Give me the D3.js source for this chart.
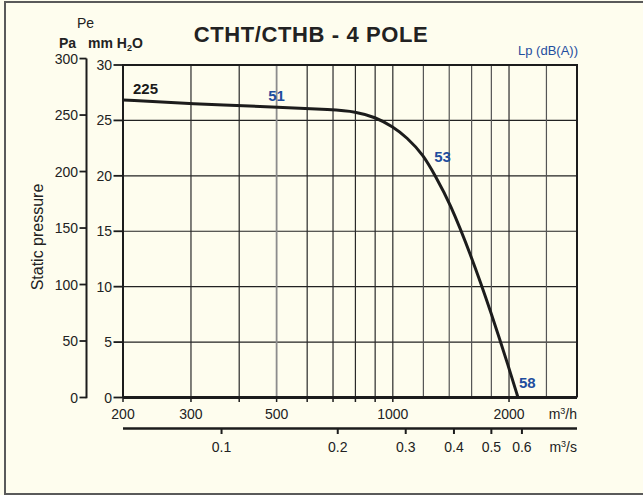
<!DOCTYPE html>
<html><head><meta charset="utf-8">
<script src="https://cdn.jsdelivr.net/npm/d3@7"></script>
<style>
html,body{margin:0;padding:0;background:#fefdee;}
svg text{font-family:"Liberation Sans",Arial,sans-serif;}
</style></head>
<body>
<svg id="c" width="643" height="495"></svg>
<script>
// ---- data ----
const flowH = [200, 300, 500, 700, 800, 900, 1000, 1085, 1200, 1290, 1400, 1600, 1800, 2000, 2110]; // m3/h
const pressMM = [26.85, 26.5, 26.2, 25.97, 25.8, 25.3, 24.45, 23.5, 21.9, 19.95, 17.7, 12.7, 7.6, 2.65, 0]; // mm H2O
const gridFlow = [300, 400, 500, 600, 700, 800, 900, 1000, 1200, 1400, 1600, 1800, 2000, 2500];
const labelFlowH = [200, 300, 500, 1000, 2000];
const tickFlowH = [200, 300, 400, 500, 600, 700, 800, 900, 1000, 2000];
const ticksM3s = [0.1, 0.2, 0.3, 0.4, 0.5, 0.6];
const ticksMM = [0, 5, 10, 15, 20, 25, 30];
const ticksPa = [0, 50, 100, 150, 200, 250, 300];
const noiseLabels = [{t: "51", f: 500, p: 26.2}, {t: "53", f: 1345, p: 20.7}, {t: "58", f: 2230, p: 0.35}];

const svg = d3.select("#c");
const x = d3.scaleLog().domain([200, 3000]).range([123, 577]);
const y = d3.scaleLinear().domain([0, 30]).range([397.5, 65]);
const ink = "#1c1c1c", blue = "#1f4e9e";

// outer frame
svg.append("rect").attr("x", 5).attr("y", 2).attr("width", 660).attr("height", 492)
  .attr("fill", "#fefdee").attr("stroke", "#5a5a5a").attr("stroke-width", 2);

// grid
const g = svg.append("g");
g.selectAll(".hg").data(ticksMM.filter(d => d > 0 && d < 30)).join("line")
  .attr("x1", 123).attr("x2", 577).attr("y1", d => y(d)).attr("y2", d => y(d))
  .attr("stroke", "#222").attr("stroke-width", 1.2);
g.selectAll(".vg").data(gridFlow).join("line")
  .attr("x1", d => x(d)).attr("x2", d => x(d)).attr("y1", 65).attr("y2", 397.5)
  .attr("stroke", d => d === 500 ? "#8c8c8c" : (d > 1000 && d !== 2000 ? "#555" : "#2a2a2a"))
  .attr("stroke-width", d => d === 500 ? 1.8 : 1.2);

// plot border
svg.append("path").attr("d", `M123,397.5V65H577V397.5`).attr("fill", "none")
  .attr("stroke", ink).attr("stroke-width", 2);
svg.append("line").attr("x1", 123).attr("x2", 577).attr("y1", 397.5).attr("y2", 397.5)
  .attr("stroke", ink).attr("stroke-width", 3);

// bottom m3/h ticks and labels
svg.selectAll(".bt").data(tickFlowH).join("line")
  .attr("x1", d => x(d)).attr("x2", d => x(d)).attr("y1", 397.5).attr("y2", 402)
  .attr("stroke", ink).attr("stroke-width", 1.5);
svg.selectAll(".bl").data(labelFlowH).join("text")
  .attr("x", d => x(d)).attr("y", 418.5).attr("text-anchor", "middle")
  .attr("font-size", 14).attr("fill", "#222").text(d => d);
const uh = svg.append("text").attr("x", 577).attr("y", 418.5).attr("text-anchor", "end")
  .attr("font-size", 14).attr("fill", "#222");
uh.append("tspan").text("m");
uh.append("tspan").attr("font-size", 9).attr("dy", -5).text("3");
uh.append("tspan").attr("dy", 5).text("/h");

// m3/s axis
svg.append("line").attr("x1", 123).attr("x2", 577).attr("y1", 428.5).attr("y2", 428.5)
  .attr("stroke", ink).attr("stroke-width", 2.5);
svg.selectAll(".st").data(ticksM3s).join("line")
  .attr("x1", d => x(d * 3600)).attr("x2", d => x(d * 3600)).attr("y1", 428.5).attr("y2", 434)
  .attr("stroke", ink).attr("stroke-width", 2);
svg.selectAll(".sl").data(ticksM3s).join("text")
  .attr("x", d => x(d * 3600)).attr("y", 452).attr("text-anchor", "middle")
  .attr("font-size", 14).attr("fill", "#222").text(d => d);
const us = svg.append("text").attr("x", 577).attr("y", 452).attr("text-anchor", "end")
  .attr("font-size", 14).attr("fill", "#222");
us.append("tspan").text("m");
us.append("tspan").attr("font-size", 9).attr("dy", -5).text("3");
us.append("tspan").attr("dy", 5).text("/s");

// mm H2O axis (left border)
svg.selectAll(".mt").data(ticksMM).join("line")
  .attr("x1", 113.5).attr("x2", 123).attr("y1", d => y(d)).attr("y2", d => y(d))
  .attr("stroke", ink).attr("stroke-width", 1.8);
svg.selectAll(".ml").data(ticksMM).join("text")
  .attr("x", 112).attr("y", d => y(d) + 5).attr("text-anchor", "end")
  .attr("font-size", 14).attr("fill", "#222").text(d => d);

// Pa axis
const pa = p => y(p / 9.81);
svg.append("line").attr("x1", 86.5).attr("x2", 86.5).attr("y1", pa(0) + 0.8).attr("y2", pa(300))
  .attr("stroke", ink).attr("stroke-width", 2);
svg.selectAll(".pt").data(ticksPa).join("line")
  .attr("x1", 79.5).attr("x2", 86.5).attr("y1", d => pa(d)).attr("y2", d => pa(d))
  .attr("stroke", ink).attr("stroke-width", 1.8);
svg.selectAll(".pl").data(ticksPa).join("text")
  .attr("x", 78).attr("y", d => pa(d) + 5).attr("text-anchor", "end")
  .attr("font-size", 14).attr("fill", "#222").text(d => d);

// axis titles
svg.append("text").attr("x", 77).attr("y", 28).attr("font-size", 14).attr("fill", "#222").text("Pe");
svg.append("text").attr("x", 59).attr("y", 48).attr("font-size", 14).attr("font-weight", "bold").attr("fill", "#222").text("Pa");
const mmt = svg.append("text").attr("x", 88).attr("y", 48).attr("font-size", 14).attr("font-weight", "bold").attr("fill", "#222");
mmt.append("tspan").text("mm H");
mmt.append("tspan").attr("font-size", 9).attr("dy", 3).text("2");
mmt.append("tspan").attr("dy", -3).text("O");
svg.append("text").attr("transform", "translate(43,237) rotate(-90)").attr("text-anchor", "middle")
  .attr("font-size", 16).attr("fill", "#222").text("Static pressure");

// title
svg.append("text").attr("x", 311).attr("y", 41.5).attr("text-anchor", "middle")
  .attr("font-size", 22).attr("font-weight", "bold").attr("letter-spacing", 0.6).attr("fill", "#222")
  .text("CTHT/CTHB - 4 POLE");
svg.append("text").attr("x", 578).attr("y", 55).attr("text-anchor", "end")
  .attr("font-size", 13).attr("fill", blue).text("Lp (dB(A))");

// curve
const pts = flowH.map((f, i) => [f, pressMM[i]]);
svg.append("path").datum(pts)
  .attr("d", d3.line().x(d => x(d[0])).y(d => y(d[1])).curve(d3.curveBasis))
  .attr("fill", "none").attr("stroke", ink).attr("stroke-width", 3);

// labels on curve
svg.append("text").attr("x", 133).attr("y", 94).attr("font-size", 15).attr("font-weight", "bold")
  .attr("fill", "#1a1a1a").text("225");
svg.selectAll(".nl").data(noiseLabels).join("text")
  .attr("x", d => x(d.f)).attr("y", d => y(d.p) - 6).attr("text-anchor", "middle")
  .attr("font-size", 15).attr("font-weight", "bold").attr("fill", blue).text(d => d.t);
</script>
</body></html>
